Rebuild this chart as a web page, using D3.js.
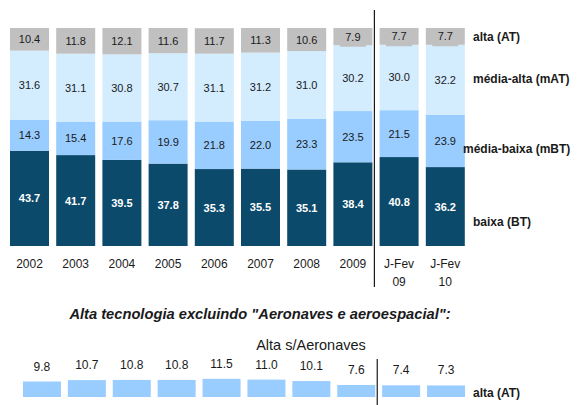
<!DOCTYPE html>
<html>
<head>
<meta charset="utf-8">
<script src="https://cdn.jsdelivr.net/npm/d3@7"></script>
<style>
  html, body { margin: 0; padding: 0; background: #ffffff; }
  svg { display: block; font-family: "Liberation Sans", Arial, sans-serif; }
</style>
</head>
<body>
<svg id="chart" width="579" height="405"></svg>
<script>
// Periods (two-line labels split on "\n")
const categories = ["2002", "2003", "2004", "2005", "2006", "2007", "2008", "2009", "J-Fev\n09", "J-Fev\n10"];

// Share of exports by technology intensity (%)
const baixa      = [43.7, 41.7, 39.5, 37.8, 35.3, 35.5, 35.1, 38.4, 40.8, 36.2];
const mediaBaixa = [14.3, 15.4, 17.6, 19.9, 21.8, 22.0, 23.3, 23.5, 21.5, 23.9];
const mediaAlta  = [31.6, 31.1, 30.8, 30.7, 31.1, 31.2, 31.0, 30.2, 30.0, 32.2];
const alta       = [10.4, 11.8, 12.1, 11.6, 11.7, 11.3, 10.6, 7.9, 7.7, 7.7];

// High technology excluding aircraft and aerospace (%)
const altaSemAeronaves = [9.8, 10.7, 10.8, 10.8, 11.5, 11.0, 10.1, 7.6, 7.4, 7.3];

const seriesNames = ["baixa (BT)", "média-baixa (mBT)", "média-alta (mAT)", "alta (AT)"];

const svg = d3.select("#chart");

const colors = {
  "baixa (BT)": "#0b4a6b",
  "média-baixa (mBT)": "#99ccff",
  "média-alta (mAT)": "#d3edff",
  "alta (AT)": "#c0c0c0"
};

// ---- Top stacked chart ----
const rows = categories.map((c, i) => ({
  cat: c,
  "baixa (BT)": baixa[i],
  "média-baixa (mBT)": mediaBaixa[i],
  "média-alta (mAT)": mediaAlta[i],
  "alta (AT)": alta[i]
}));

const x = d3.scaleBand().domain(categories).range([6.4, 468.4])
  .paddingInner(0.156).paddingOuter(0.078);
const y = d3.scaleLinear().domain([0, 100]).range([246, 28]);

const stack = d3.stack().keys(seriesNames)(rows);

const layers = svg.append("g").selectAll("g").data(stack).join("g")
  .attr("fill", d => colors[d.key]);

layers.selectAll("rect").data(d => d).join("rect")
  .attr("x", d => x(d.data.cat))
  .attr("width", x.bandwidth())
  .attr("y", d => y(d[1]))
  .attr("height", d => y(d[0]) - y(d[1]));

// small tabs behind labels of thin top segments
const altaLayer = stack[3];
svg.append("g").selectAll("rect")
  .data(altaLayer.filter(d => d[1] - d[0] < 9))
  .join("rect")
  .attr("x", d => x(d.data.cat) + x.bandwidth() / 2 - 13)
  .attr("width", 26)
  .attr("y", d => y(d[1]))
  .attr("height", d => y(d[0]) - y(d[1]) + 1.5)
  .attr("fill", colors["alta (AT)"]);

// segment value labels
stack.forEach(layer => {
  const dark = layer.key === "baixa (BT)";
  svg.append("g").selectAll("text").data(layer).join("text")
    .attr("x", d => x(d.data.cat) + x.bandwidth() / 2)
    .attr("y", d => (y(d[0]) + y(d[1])) / 2)
    .attr("text-anchor", "middle")
    .attr("dominant-baseline", "central")
    .attr("font-size", 11)
    .attr("font-weight", dark ? "bold" : "normal")
    .attr("fill", dark ? "#ffffff" : "#1a1a1a")
    .text(d => (d[1] - d[0]).toFixed(1));
});

// category labels
const catLabels = svg.append("g").selectAll("text").data(categories).join("text")
  .attr("x", d => x(d) + x.bandwidth() / 2)
  .attr("y", 264)
  .attr("text-anchor", "middle")
  .attr("font-size", 12)
  .attr("fill", "#1a1a1a");
catLabels.each(function(d) {
  const parts = d.split("\n");
  d3.select(this).selectAll("tspan").data(parts).join("tspan")
    .attr("x", x(d) + x.bandwidth() / 2)
    .attr("dy", (p, i) => i === 0 ? "0.35em" : "18")
    .text(p => p);
});

// series labels at right, next to the last bar
const legendPos = {
  "alta (AT)": { x: 473, y: 37 },
  "média-alta (mAT)": { x: 473, y: 79 },
  "média-baixa (mBT)": { x: 463, y: 149 },
  "baixa (BT)": { x: 473, y: 222 }
};
svg.append("g").selectAll("text").data(seriesNames).join("text")
  .attr("x", d => legendPos[d].x)
  .attr("y", d => legendPos[d].y)
  .attr("dominant-baseline", "central")
  .attr("font-size", 12)
  .attr("font-weight", "bold")
  .attr("fill", "#1a1a1a")
  .text(d => d);

// separator between full years and Jan-Feb periods
const sepX = x(categories[7]) + x.bandwidth() + 2;
svg.append("line")
  .attr("x1", sepX).attr("x2", sepX)
  .attr("y1", 10).attr("y2", 287)
  .attr("stroke", "#1a1a1a").attr("stroke-width", 1.2);

// ---- Bottom chart: high tech excluding aircraft ----
svg.append("text")
  .attr("x", 260).attr("y", 314)
  .attr("text-anchor", "middle")
  .attr("dominant-baseline", "central")
  .attr("font-size", 14.7)
  .attr("font-weight", "bold")
  .attr("font-style", "italic")
  .attr("fill", "#1a1a1a")
  .text("Alta tecnologia excluindo \"Aeronaves e aeroespacial\":");

svg.append("text")
  .attr("x", 311).attr("y", 345)
  .attr("text-anchor", "middle")
  .attr("dominant-baseline", "central")
  .attr("font-size", 14.5)
  .attr("fill", "#1a1a1a")
  .text("Alta s/Aeronaves");

const x2 = d3.scaleBand().domain(categories).range([19.5, 468.5])
  .paddingInner(0.154).paddingOuter(0.077);
const y2 = d3.scaleLinear().domain([0, 10]).range([397, 381.2]);

svg.append("g").selectAll("rect").data(altaSemAeronaves).join("rect")
  .attr("x", (d, i) => x2(categories[i]))
  .attr("width", x2.bandwidth())
  .attr("y", d => y2(d))
  .attr("height", d => y2(0) - y2(d))
  .attr("fill", "#99ccff");

svg.append("g").selectAll("text").data(altaSemAeronaves).join("text")
  .attr("x", (d, i) => x2(categories[i]) + x2.bandwidth() / 2)
  .attr("y", d => y2(d) - 15)
  .attr("text-anchor", "middle")
  .attr("dominant-baseline", "central")
  .attr("font-size", 12)
  .attr("fill", "#1a1a1a")
  .text(d => d.toFixed(1));

svg.append("text")
  .attr("x", 473).attr("y", 393)
  .attr("dominant-baseline", "central")
  .attr("font-size", 12)
  .attr("font-weight", "bold")
  .attr("fill", "#1a1a1a")
  .text("alta (AT)");

const sepX2 = x2(categories[7]) + x2.bandwidth() + 2;
svg.append("line")
  .attr("x1", sepX2).attr("x2", sepX2)
  .attr("y1", 359).attr("y2", 405)
  .attr("stroke", "#1a1a1a").attr("stroke-width", 1.2);
</script>
</body>
</html>
